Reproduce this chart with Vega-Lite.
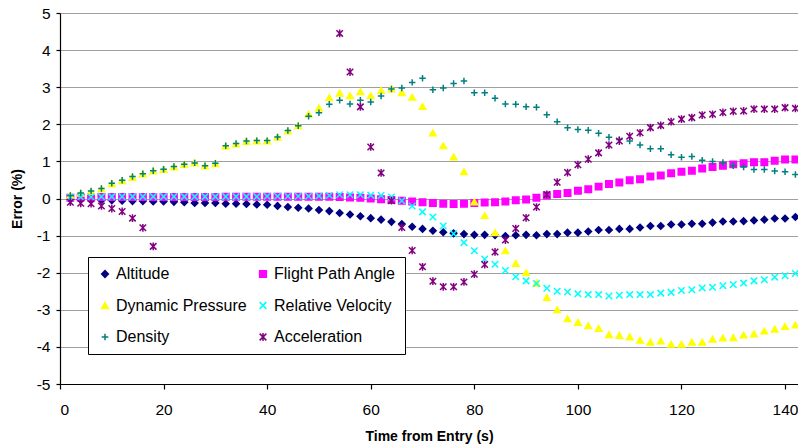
{
  "$schema": "https://vega.github.io/schema/vega-lite/v6.json",
  "width": 738,
  "height": 371,
  "autosize": {"type": "none"},
  "padding": {"left": 60, "top": 13, "right": 0, "bottom": 62},
  "background": "white",
  "config": {"view": {"stroke": null}, "font": "Liberation Sans"},
  "data": {"values": [
    {"t":2,"Altitude":-0.02,"Flight Path Angle":0.02,"Dynamic Pressure":0.08,"Relative Velocity":0.03,"Density":0.08,"Acceleration":-0.1},
    {"t":4,"Altitude":-0.03,"Flight Path Angle":0.03,"Dynamic Pressure":0.14,"Relative Velocity":0.04,"Density":0.15,"Acceleration":-0.13},
    {"t":6,"Altitude":-0.04,"Flight Path Angle":0.03,"Dynamic Pressure":0.19,"Relative Velocity":0.04,"Density":0.2,"Acceleration":-0.14},
    {"t":8,"Altitude":-0.05,"Flight Path Angle":0.04,"Dynamic Pressure":0.26,"Relative Velocity":0.05,"Density":0.27,"Acceleration":-0.2},
    {"t":10,"Altitude":-0.05,"Flight Path Angle":0.04,"Dynamic Pressure":0.4,"Relative Velocity":0.05,"Density":0.41,"Acceleration":-0.27},
    {"t":12,"Altitude":-0.06,"Flight Path Angle":0.04,"Dynamic Pressure":0.48,"Relative Velocity":0.05,"Density":0.49,"Acceleration":-0.35},
    {"t":14,"Altitude":-0.07,"Flight Path Angle":0.04,"Dynamic Pressure":0.57,"Relative Velocity":0.05,"Density":0.59,"Acceleration":-0.53},
    {"t":16,"Altitude":-0.07,"Flight Path Angle":0.04,"Dynamic Pressure":0.66,"Relative Velocity":0.05,"Density":0.67,"Acceleration":-0.79},
    {"t":18,"Altitude":-0.08,"Flight Path Angle":0.04,"Dynamic Pressure":0.74,"Relative Velocity":0.05,"Density":0.75,"Acceleration":-1.29},
    {"t":20,"Altitude":-0.08,"Flight Path Angle":0.04,"Dynamic Pressure":0.78,"Relative Velocity":0.05,"Density":0.79},
    {"t":22,"Altitude":-0.09,"Flight Path Angle":0.04,"Dynamic Pressure":0.85,"Relative Velocity":0.05,"Density":0.86},
    {"t":24,"Altitude":-0.1,"Flight Path Angle":0.04,"Dynamic Pressure":0.92,"Relative Velocity":0.05,"Density":0.92},
    {"t":26,"Altitude":-0.12,"Flight Path Angle":0.04,"Dynamic Pressure":0.96,"Relative Velocity":0.05,"Density":0.96},
    {"t":28,"Altitude":-0.12,"Flight Path Angle":0.04,"Dynamic Pressure":0.88,"Relative Velocity":0.05,"Density":0.88},
    {"t":30,"Altitude":-0.12,"Flight Path Angle":0.04,"Dynamic Pressure":0.94,"Relative Velocity":0.05,"Density":0.95},
    {"t":32,"Altitude":-0.14,"Flight Path Angle":0.05,"Dynamic Pressure":1.41,"Relative Velocity":0.05,"Density":1.42},
    {"t":34,"Altitude":-0.14,"Flight Path Angle":0.05,"Dynamic Pressure":1.47,"Relative Velocity":0.05,"Density":1.48},
    {"t":36,"Altitude":-0.15,"Flight Path Angle":0.05,"Dynamic Pressure":1.54,"Relative Velocity":0.05,"Density":1.55},
    {"t":38,"Altitude":-0.16,"Flight Path Angle":0.05,"Dynamic Pressure":1.55,"Relative Velocity":0.05,"Density":1.56},
    {"t":40,"Altitude":-0.17,"Flight Path Angle":0.05,"Dynamic Pressure":1.55,"Relative Velocity":0.06,"Density":1.56},
    {"t":42,"Altitude":-0.2,"Flight Path Angle":0.05,"Dynamic Pressure":1.65,"Relative Velocity":0.06,"Density":1.66},
    {"t":44,"Altitude":-0.23,"Flight Path Angle":0.05,"Dynamic Pressure":1.82,"Relative Velocity":0.06,"Density":1.83},
    {"t":46,"Altitude":-0.25,"Flight Path Angle":0.05,"Dynamic Pressure":1.96,"Relative Velocity":0.06,"Density":1.96},
    {"t":48,"Altitude":-0.27,"Flight Path Angle":0.05,"Dynamic Pressure":2.27,"Relative Velocity":0.06,"Density":2.22},
    {"t":50,"Altitude":-0.31,"Flight Path Angle":0.05,"Dynamic Pressure":2.44,"Relative Velocity":0.07,"Density":2.31},
    {"t":52,"Altitude":-0.34,"Flight Path Angle":0.05,"Dynamic Pressure":2.72,"Relative Velocity":0.08,"Density":2.54},
    {"t":54,"Altitude":-0.39,"Flight Path Angle":0.04,"Dynamic Pressure":2.84,"Relative Velocity":0.1,"Density":2.65,"Acceleration":4.45},
    {"t":56,"Altitude":-0.43,"Flight Path Angle":0.03,"Dynamic Pressure":2.77,"Relative Velocity":0.1,"Density":2.55,"Acceleration":3.41},
    {"t":58,"Altitude":-0.48,"Flight Path Angle":0.02,"Dynamic Pressure":2.88,"Relative Velocity":0.1,"Density":2.65,"Acceleration":2.47},
    {"t":60,"Altitude":-0.53,"Flight Path Angle":0.0,"Dynamic Pressure":2.77,"Relative Velocity":0.09,"Density":2.6,"Acceleration":1.39},
    {"t":62,"Altitude":-0.57,"Flight Path Angle":-0.02,"Dynamic Pressure":2.91,"Relative Velocity":0.08,"Density":2.76,"Acceleration":0.69},
    {"t":64,"Altitude":-0.63,"Flight Path Angle":-0.04,"Dynamic Pressure":2.95,"Relative Velocity":0.04,"Density":2.95,"Acceleration":-0.06},
    {"t":66,"Altitude":-0.69,"Flight Path Angle":-0.06,"Dynamic Pressure":2.85,"Relative Velocity":-0.06,"Density":2.98,"Acceleration":-0.78},
    {"t":68,"Altitude":-0.76,"Flight Path Angle":-0.08,"Dynamic Pressure":2.73,"Relative Velocity":-0.2,"Density":3.13,"Acceleration":-1.4},
    {"t":70,"Altitude":-0.82,"Flight Path Angle":-0.1,"Dynamic Pressure":2.48,"Relative Velocity":-0.36,"Density":3.24,"Acceleration":-1.84},
    {"t":72,"Altitude":-0.87,"Flight Path Angle":-0.12,"Dynamic Pressure":1.77,"Relative Velocity":-0.5,"Density":2.93,"Acceleration":-2.23},
    {"t":74,"Altitude":-0.91,"Flight Path Angle":-0.14,"Dynamic Pressure":1.42,"Relative Velocity":-0.74,"Density":2.98,"Acceleration":-2.38},
    {"t":76,"Altitude":-0.94,"Flight Path Angle":-0.15,"Dynamic Pressure":1.12,"Relative Velocity":-0.95,"Density":3.1,"Acceleration":-2.38},
    {"t":78,"Altitude":-0.96,"Flight Path Angle":-0.14,"Dynamic Pressure":0.72,"Relative Velocity":-1.19,"Density":3.17,"Acceleration":-2.25},
    {"t":80,"Altitude":-0.98,"Flight Path Angle":-0.12,"Dynamic Pressure":-0.09,"Relative Velocity":-1.41,"Density":2.85,"Acceleration":-2.04},
    {"t":82,"Altitude":-0.98,"Flight Path Angle":-0.11,"Dynamic Pressure":-0.46,"Relative Velocity":-1.63,"Density":2.85,"Acceleration":-1.78},
    {"t":84,"Altitude":-0.99,"Flight Path Angle":-0.1,"Dynamic Pressure":-0.92,"Relative Velocity":-1.77,"Density":2.7,"Acceleration":-1.44},
    {"t":86,"Altitude":-1.01,"Flight Path Angle":-0.08,"Dynamic Pressure":-1.41,"Relative Velocity":-1.94,"Density":2.55,"Acceleration":-1.12},
    {"t":88,"Altitude":-0.99,"Flight Path Angle":-0.05,"Dynamic Pressure":-1.75,"Relative Velocity":-2.11,"Density":2.54,"Acceleration":-0.81},
    {"t":90,"Altitude":-0.98,"Flight Path Angle":-0.03,"Dynamic Pressure":-2.0,"Relative Velocity":-2.22,"Density":2.47,"Acceleration":-0.52},
    {"t":92,"Altitude":-0.99,"Flight Path Angle":0.02,"Dynamic Pressure":-2.28,"Relative Velocity":-2.29,"Density":2.46,"Acceleration":-0.23},
    {"t":94,"Altitude":-0.96,"Flight Path Angle":0.08,"Dynamic Pressure":-2.67,"Relative Velocity":-2.42,"Density":2.26,"Acceleration":0.11},
    {"t":96,"Altitude":-0.96,"Flight Path Angle":0.12,"Dynamic Pressure":-3.0,"Relative Velocity":-2.5,"Density":2.07,"Acceleration":0.44},
    {"t":98,"Altitude":-0.92,"Flight Path Angle":0.15,"Dynamic Pressure":-3.24,"Relative Velocity":-2.52,"Density":1.91,"Acceleration":0.7},
    {"t":100,"Altitude":-0.92,"Flight Path Angle":0.21,"Dynamic Pressure":-3.34,"Relative Velocity":-2.57,"Density":1.86,"Acceleration":0.91},
    {"t":102,"Altitude":-0.89,"Flight Path Angle":0.25,"Dynamic Pressure":-3.43,"Relative Velocity":-2.59,"Density":1.84,"Acceleration":1.06},
    {"t":104,"Altitude":-0.85,"Flight Path Angle":0.32,"Dynamic Pressure":-3.5,"Relative Velocity":-2.59,"Density":1.76,"Acceleration":1.23},
    {"t":106,"Altitude":-0.85,"Flight Path Angle":0.39,"Dynamic Pressure":-3.67,"Relative Velocity":-2.63,"Density":1.65,"Acceleration":1.44},
    {"t":108,"Altitude":-0.82,"Flight Path Angle":0.43,"Dynamic Pressure":-3.69,"Relative Velocity":-2.61,"Density":1.59,"Acceleration":1.55},
    {"t":110,"Altitude":-0.82,"Flight Path Angle":0.49,"Dynamic Pressure":-3.73,"Relative Velocity":-2.59,"Density":1.55,"Acceleration":1.68},
    {"t":112,"Altitude":-0.78,"Flight Path Angle":0.52,"Dynamic Pressure":-3.82,"Relative Velocity":-2.59,"Density":1.44,"Acceleration":1.77},
    {"t":114,"Altitude":-0.74,"Flight Path Angle":0.59,"Dynamic Pressure":-3.87,"Relative Velocity":-2.59,"Density":1.34,"Acceleration":1.91},
    {"t":116,"Altitude":-0.74,"Flight Path Angle":0.62,"Dynamic Pressure":-3.84,"Relative Velocity":-2.55,"Density":1.34,"Acceleration":1.97},
    {"t":118,"Altitude":-0.7,"Flight Path Angle":0.68,"Dynamic Pressure":-3.93,"Relative Velocity":-2.53,"Density":1.18,"Acceleration":2.07},
    {"t":120,"Altitude":-0.7,"Flight Path Angle":0.72,"Dynamic Pressure":-3.93,"Relative Velocity":-2.48,"Density":1.11,"Acceleration":2.14},
    {"t":122,"Altitude":-0.68,"Flight Path Angle":0.75,"Dynamic Pressure":-3.87,"Relative Velocity":-2.46,"Density":1.13,"Acceleration":2.18},
    {"t":124,"Altitude":-0.68,"Flight Path Angle":0.81,"Dynamic Pressure":-3.87,"Relative Velocity":-2.41,"Density":1.03,"Acceleration":2.25},
    {"t":126,"Altitude":-0.65,"Flight Path Angle":0.85,"Dynamic Pressure":-3.79,"Relative Velocity":-2.39,"Density":1.0,"Acceleration":2.27},
    {"t":128,"Altitude":-0.62,"Flight Path Angle":0.88,"Dynamic Pressure":-3.76,"Relative Velocity":-2.35,"Density":0.97,"Acceleration":2.32},
    {"t":130,"Altitude":-0.62,"Flight Path Angle":0.92,"Dynamic Pressure":-3.75,"Relative Velocity":-2.32,"Density":0.88,"Acceleration":2.35},
    {"t":132,"Altitude":-0.61,"Flight Path Angle":0.95,"Dynamic Pressure":-3.68,"Relative Velocity":-2.28,"Density":0.85,"Acceleration":2.36},
    {"t":134,"Altitude":-0.59,"Flight Path Angle":0.98,"Dynamic Pressure":-3.65,"Relative Velocity":-2.22,"Density":0.78,"Acceleration":2.41},
    {"t":136,"Altitude":-0.57,"Flight Path Angle":0.98,"Dynamic Pressure":-3.57,"Relative Velocity":-2.19,"Density":0.78,"Acceleration":2.41},
    {"t":138,"Altitude":-0.54,"Flight Path Angle":1.02,"Dynamic Pressure":-3.52,"Relative Velocity":-2.12,"Density":0.74,"Acceleration":2.41},
    {"t":140,"Altitude":-0.54,"Flight Path Angle":1.05,"Dynamic Pressure":-3.45,"Relative Velocity":-2.08,"Density":0.72,"Acceleration":2.45},
    {"t":142,"Altitude":-0.5,"Flight Path Angle":1.05,"Dynamic Pressure":-3.41,"Relative Velocity":-2.02,"Density":0.65,"Acceleration":2.43}
  ]},
  "transform": [
    {"fold": ["Altitude", "Flight Path Angle", "Dynamic Pressure", "Relative Velocity", "Density", "Acceleration"], "as": ["series", "value"]},
    {"filter": "isValid(datum.value)"}
  ],
  "mark": {"type": "point", "filled": true, "size": 42, "strokeWidth": 1.5, "opacity": 1},
  "encoding": {
    "x": {
      "field": "t", "type": "quantitative",
      "scale": {"domain": [0, 142.5], "nice": false, "zero": false},
      "axis": {
        "values": [0, 20, 40, 60, 80, 100, 120, 140],
        "labelExpr": "toString(datum.value)",
        "grid": false,
        "domainColor": "black", "domainWidth": 1.2,
        "tickColor": "black", "tickSize": 5, "tickWidth": 1.2,
        "labelFontSize": 15.5, "labelColor": "black", "labelPadding": 13, "labelFont": "Liberation Sans",
        "title": "Time from Entry (s)", "titleFontSize": 14, "titleFontWeight": "bold", "titleColor": "black", "titleFont": "Liberation Sans",
        "titleX": 369, "titleY": 52, "titleBaseline": "middle", "titleAlign": "center"
      }
    },
    "y": {
      "field": "value", "type": "quantitative",
      "scale": {"domain": [-5, 5], "nice": false},
      "axis": {
        "values": [-5, -4, -3, -2, -1, 0, 1, 2, 3, 4, 5],
        "labelExpr": "toString(datum.value)",
        "grid": true, "gridColor": "#a0a0a0", "gridWidth": 1,
        "domainColor": "black", "domainWidth": 1.2,
        "tickColor": "black", "tickSize": 4, "tickWidth": 1.2,
        "labelFontSize": 15.5, "labelColor": "black", "labelPadding": 6, "labelFont": "Liberation Sans",
        "title": "Error (%)", "titleFontSize": 14, "titleFontWeight": "bold", "titleColor": "black", "titleFont": "Liberation Sans",
        "titleX": -43, "titleY": 185.5, "titleAngle": -90, "titleAlign": "center", "titleBaseline": "middle"
      }
    },
    "color": {
      "field": "series", "type": "nominal",
      "scale": {
        "domain": ["Altitude", "Dynamic Pressure", "Density", "Flight Path Angle", "Relative Velocity", "Acceleration"],
        "range": ["#000080", "#FFFF00", "#008080", "#FF00FF", "#00FFFF", "#800080"]
      },
      "legend": {
        "title": null, "orient": "none", "legendX": 28, "legendY": 244,
        "columns": 2, "columnPadding": 8, "rowPadding": 15.5, "padding": 9,
        "strokeColor": "black", "fillColor": "white",
        "symbolSize": 45, "symbolStrokeWidth": 1.5, "labelOffset": 3,
        "labelFontSize": 16, "labelColor": "black", "labelFont": "Liberation Sans", "labelLimit": 300
      }
    },
    "stroke": {
      "field": "series", "type": "nominal",
      "scale": {
        "domain": ["Altitude", "Dynamic Pressure", "Density", "Flight Path Angle", "Relative Velocity", "Acceleration"],
        "range": ["#000080", "#FFFF00", "#008080", "#FF00FF", "#00FFFF", "#800080"]
      }
    },
    "shape": {
      "field": "series", "type": "nominal",
      "scale": {
        "domain": ["Altitude", "Dynamic Pressure", "Density", "Flight Path Angle", "Relative Velocity", "Acceleration"],
        "range": ["diamond", "triangle-up", "M-1,0L1,0M0,-1L0,1", "square", "M-1,-1L1,1M1,-1L-1,1", "M-1,-1L1,1M1,-1L-1,1M0,-1.2L0,1.2"]
      }
    }
  }
}
